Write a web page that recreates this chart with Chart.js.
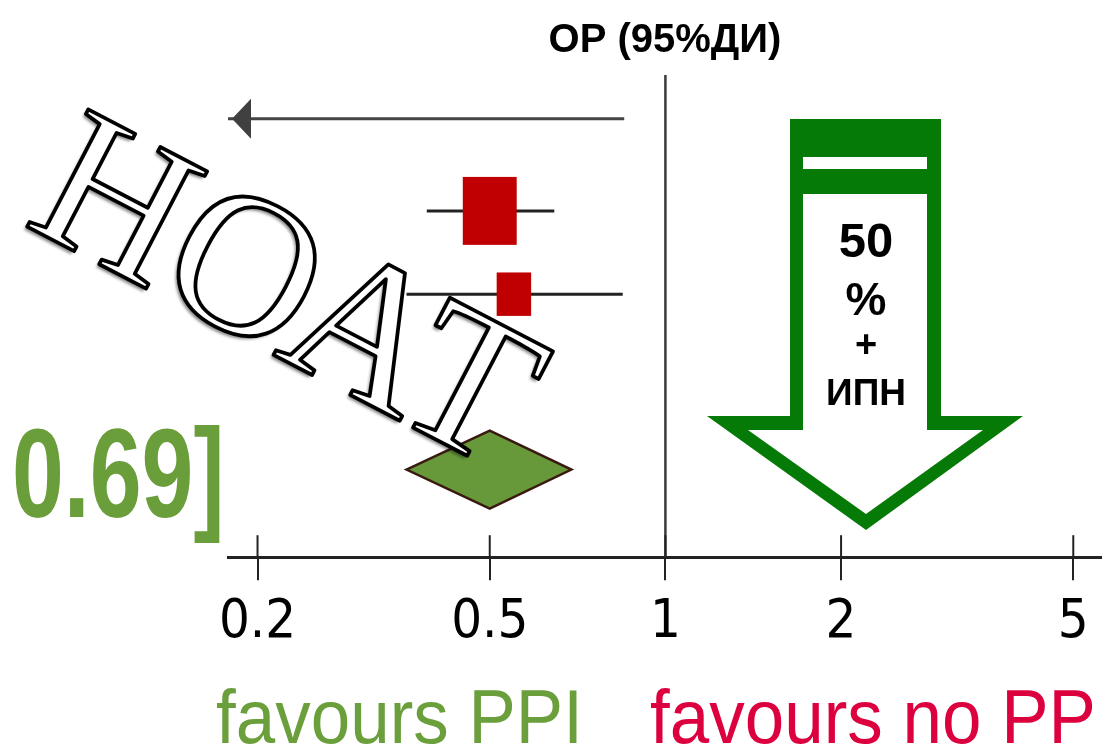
<!DOCTYPE html>
<html>
<head>
<meta charset="utf-8">
<script src="https://cdn.jsdelivr.net/npm/chart.js@4.4.1/dist/chart.umd.min.js"></script>
<style>
  html, body { margin: 0; padding: 0; background: #fff; }
  canvas { display: block; }
</style>
</head>
<body>
<canvas id="forest" width="1102" height="747"></canvas>
<script>
// rows, top to bottom (y = row position on the hidden vertical axis)
var rowY = [4, 2.95, 2];
var rrPoint = [null, 0.50, 0.55];
var ciLow = [0.10, 0.39, 0.36];
var ciHigh = [0.85, 0.645, 0.845];
var weight = [0, 71, 29];

// pooled estimate
var pooledY = 0;
var pooledRR = 0.50;
var pooledLow = 0.36;
var pooledHigh = 0.69;

var tickValues = [0.2, 0.5, 1, 2, 5];
var tickLabels = ['0.2', '0.5', '1', '2', '5'];

var titleText = 'ОР (95%ДИ)';
var pooledText = '0.69]';
var leftLabel = 'favours PPI';
var rightLabel = 'favours no PPI';
var arrowText = ['50', '%', '+', 'ИПН'];
var stampText = 'НОАТ';

var SANS = '"Liberation Sans", Arial, sans-serif';

var datasets = [];
// line of no effect
datasets.push({
    data: [{x: 1, y: -1}, {x: 1, y: 4.5}],
    borderColor: '#3a3a3a', borderWidth: 2.5, showLine: true, pointRadius: 0
});
for (let i = 0; i < rowY.length; i++) {
    datasets.push({
        data: [{x: ciLow[i], y: rowY[i]}, {x: ciHigh[i], y: rowY[i]}],
        borderColor: i == 0 ? '#444' : '#222', borderWidth: 3, showLine: true, pointRadius: 0
    });
}

const forestMarks = {
    id: 'forestMarks',
    afterDatasetsDraw(chart) {
        const ctx = chart.ctx, xs = chart.scales.x, ys = chart.scales.y, area = chart.chartArea;
        ctx.save();
        // study boxes
        for (let i = 0; i < rowY.length; i++) {
            const cy = ys.getPixelForValue(rowY[i]);
            if (rrPoint[i] != null) {
                const w = 6.4 * Math.sqrt(weight[i]);
                const h = w * 1.26;
                const cx = xs.getPixelForValue(rrPoint[i]);
                ctx.fillStyle = '#c00000';
                ctx.fillRect(cx - w / 2, cy - h / 2, w, h);
            }
            // CI running off the left end of the axis
            if (ciLow[i] < xs.min) {
                const tx = area.left + 4;
                ctx.fillStyle = '#404040';
                ctx.beginPath();
                ctx.moveTo(tx, cy);
                ctx.lineTo(tx + 19, cy - 20);
                ctx.lineTo(tx + 19, cy + 20);
                ctx.closePath();
                ctx.fill();
            }
        }
        // pooled diamond
        const dy = ys.getPixelForValue(pooledY);
        ctx.beginPath();
        ctx.moveTo(xs.getPixelForValue(pooledLow), dy);
        ctx.lineTo(xs.getPixelForValue(pooledRR), dy - 39);
        ctx.lineTo(xs.getPixelForValue(pooledHigh), dy);
        ctx.lineTo(xs.getPixelForValue(pooledRR), dy + 39);
        ctx.closePath();
        ctx.fillStyle = '#67993a';
        ctx.fill();
        ctx.lineWidth = 2.5;
        ctx.strokeStyle = '#3a1a10';
        ctx.stroke();
        // upper half of the tick marks
        ctx.strokeStyle = '#222';
        ctx.lineWidth = 2;
        tickValues.forEach(function (v) {
            const x = xs.getPixelForValue(v);
            ctx.beginPath();
            ctx.moveTo(x, area.bottom - 22);
            ctx.lineTo(x, area.bottom);
            ctx.stroke();
        });
        ctx.restore();
    },
    afterDraw(chart) {
        const ctx = chart.ctx;
        ctx.save();

        // big green arrow
        ctx.fillStyle = '#067a06';
        ctx.beginPath();
        ctx.moveTo(790, 119); ctx.lineTo(941, 119); ctx.lineTo(941, 416);
        ctx.lineTo(1023, 416); ctx.lineTo(866, 530); ctx.lineTo(707, 416);
        ctx.lineTo(790, 416); ctx.closePath();
        ctx.fill();
        ctx.fillStyle = '#fff';
        ctx.beginPath();
        ctx.moveTo(803, 194); ctx.lineTo(927, 194); ctx.lineTo(927, 430);
        ctx.lineTo(983, 430); ctx.lineTo(866, 514); ctx.lineTo(748, 430);
        ctx.lineTo(803, 430); ctx.closePath();
        ctx.fill();
        ctx.fillRect(803, 157, 124, 12);

        ctx.fillStyle = '#000';
        ctx.textAlign = 'center';
        ctx.textBaseline = 'alphabetic';
        ctx.font = 'bold 49px ' + SANS;
        ctx.fillText(arrowText[0], 866, 257);
        ctx.font = 'bold 46px ' + SANS;
        ctx.fillText(arrowText[1], 866, 315);
        ctx.font = 'bold 38px ' + SANS;
        ctx.textBaseline = 'middle';
        ctx.fillText(arrowText[2], 866, 347);
        ctx.textBaseline = 'alphabetic';
        ctx.font = 'bold 37px ' + SANS;
        ctx.fillText(arrowText[3], 866, 405);

        // pooled upper limit text on the left
        ctx.textAlign = 'left';
        ctx.fillStyle = '#6a9e3a';
        ctx.font = 'bold 126px ' + SANS;
        ctx.save();
        ctx.translate(12, 517);
        ctx.scale(0.74, 1);
        ctx.fillText(pooledText, 0, 0);
        ctx.restore();

        // favours labels
        ctx.font = '76px ' + SANS;
        ctx.save();
        ctx.translate(216, 743);
        ctx.scale(0.934, 1);
        ctx.fillStyle = '#6a9f3c';
        ctx.fillText(leftLabel, 0, 0);
        ctx.restore();
        ctx.save();
        ctx.translate(650, 743);
        ctx.scale(0.934, 1);
        ctx.fillStyle = '#dc003f';
        ctx.fillText(rightLabel, 0, 0);
        ctx.restore();

        // outlined stamp text
        ctx.save();
        ctx.translate(22, 224);
        ctx.rotate(27.5 * Math.PI / 180);
        ctx.font = '202px "Liberation Serif", "DejaVu Serif", serif';
        ctx.lineJoin = 'round';
        ctx.shadowColor = 'rgba(0,0,0,0.45)';
        ctx.shadowBlur = 3;
        ctx.shadowOffsetX = -3;
        ctx.shadowOffsetY = 3;
        ctx.fillStyle = '#fff';
        ctx.fillText(stampText, 0, 0);
        ctx.shadowColor = 'transparent';
        ctx.lineWidth = 3.8;
        ctx.strokeStyle = '#000';
        ctx.strokeText(stampText, 0, 0);
        ctx.restore();

        ctx.restore();
    }
};

new Chart(document.getElementById('forest').getContext('2d'), {
    type: 'scatter',
    data: { datasets: datasets },
    options: {
        responsive: false,
        animation: false,
        devicePixelRatio: 1,
        layout: { padding: { left: 228, right: 0, top: 0, bottom: 82 } },
        plugins: {
            legend: { display: false },
            tooltip: { enabled: false },
            title: {
                display: true,
                text: titleText,
                color: '#000',
                font: { family: SANS, size: 40, weight: 'bold' },
                padding: { top: 17, bottom: 10 }
            }
        },
        scales: {
            x: {
                type: 'logarithmic',
                min: 0.178,
                max: 5.6,
                afterBuildTicks: function (s) {
                    s.ticks = tickValues.map(function (v) { return { value: v }; });
                },
                ticks: {
                    callback: function (v) {
                        const i = tickValues.indexOf(v);
                        return i < 0 ? '' : tickLabels[i];
                    },
                    color: '#000',
                    font: { family: '"Liberation Sans Narrow", "DejaVu Sans Condensed", sans-serif', size: 54 },
                    padding: 10,
                    maxRotation: 0,
                    autoSkip: false
                },
                grid: { drawOnChartArea: false, drawTicks: true, tickLength: 23, color: '#222', lineWidth: 2 },
                border: { display: true, color: '#222', width: 3 }
            },
            y: { type: 'linear', min: -1, max: 4.5, display: false }
        }
    },
    plugins: [forestMarks]
});
</script>
</body>
</html>
